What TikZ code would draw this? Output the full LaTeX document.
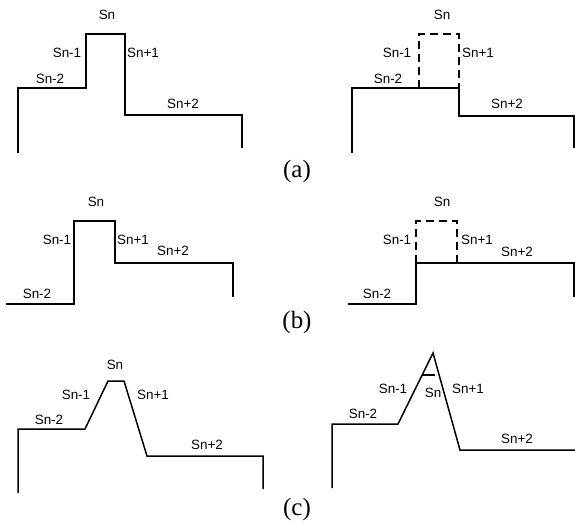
\documentclass[tikz,border=0pt]{standalone}
\usepackage{fontspec}
\newfontfamily\arialfont{Liberation Sans}
\newfontfamily\timesfont{Liberation Serif}
\usepackage{tikz}

\begin{document}
\begin{tikzpicture}[
    x=1bp, y=-1bp,
    prof/.style={line width=1.5bp, line join=miter},
    ghost/.style={line width=1.5bp, dash pattern=on 8bp off 5bp},
    lbl/.style={font=\arialfont\fontsize{13.5}{15}\selectfont, inner sep=0pt},
    caption/.style={font=\timesfont\fontsize{25}{27}\selectfont, inner sep=0pt}
]
\useasboundingbox (0,0) rectangle (575,525);

% (a) single raised step, then flattened
\draw[prof] (18,153) -- (18,88) -- (86,88) -- (86,34) -- (125,34) -- (125,115) -- (242,115) -- (242,148);
\node[lbl] (an)  at (107,15)  {Sn};
\node[lbl] (an1) at (67,53)   {Sn-1};
\node[lbl] (ap1) at (143,53)  {Sn+1};
\node[lbl] (an2) at (50,79)   {Sn-2};
\node[lbl] (ap2) at (183,104) {Sn+2};

\draw[prof] (352,153) -- (352,88) -- (459,88) -- (459,116) -- (574,116) -- (574,148);
\draw[ghost] (419,88) -- (419,34) -- (459,34) -- (459,88);
\node[lbl] (bn)  at (442,15)  {Sn};
\node[lbl] (bn1) at (397,53)  {Sn-1};
\node[lbl] (bp1) at (478,53)  {Sn+1};
\node[lbl] (bn2) at (388,79)  {Sn-2};
\node[lbl] (bp2) at (507,104) {Sn+2};

\node[caption] (capa) at (297,172) {(a)};

% (b) raised step between two levels
\draw[prof] (6,304) -- (74,304) -- (74,221) -- (115,221) -- (115,263) -- (233,263) -- (233,297);
\node[lbl] (cn)  at (96,202)  {Sn};
\node[lbl] (cn1) at (57,240)  {Sn-1};
\node[lbl] (cp1) at (133,240) {Sn+1};
\node[lbl] (cp2) at (173,251) {Sn+2};
\node[lbl] (cn2) at (37,294)  {Sn-2};

\draw[prof] (348,304) -- (416,304) -- (416,263) -- (574,263) -- (574,297);
\draw[ghost] (416,263) -- (416,221) -- (457,221) -- (457,263);
\node[lbl] (dn)  at (442,202) {Sn};
\node[lbl] (dn1) at (397,240) {Sn-1};
\node[lbl] (dp1) at (477,240) {Sn+1};
\node[lbl] (dp2) at (517,252) {Sn+2};
\node[lbl] (dn2) at (377,294) {Sn-2};

\node[caption] (capb) at (297,323) {(b)};

% (c) sloped flanks
\draw[prof] (18,493) -- (18,429) -- (85,429) -- (108,381) -- (124,381) -- (147,456) -- (263,456) -- (263,489);
\node[lbl] (en)  at (115,365) {Sn};
\node[lbl] (en1) at (76,395)  {Sn-1};
\node[lbl] (ep1) at (153,395) {Sn+1};
\node[lbl] (en2) at (49,420)  {Sn-2};
\node[lbl] (ep2) at (207,445) {Sn+2};

\draw[prof] (332,488) -- (332,424) -- (398,424) -- (433,353) -- (460,450) -- (575,450);
\draw[line width=1.5bp] (422,375) -- (435,375);
\node[lbl] (fn)  at (433,393) {Sn};
\node[lbl] (fn1) at (393,389) {Sn-1};
\node[lbl] (fp1) at (468,389) {Sn+1};
\node[lbl] (fn2) at (363,414) {Sn-2};
\node[lbl] (fp2) at (517,439) {Sn+2};

\node[caption] (capc) at (297,510) {(c)};
\end{tikzpicture}
\end{document}
